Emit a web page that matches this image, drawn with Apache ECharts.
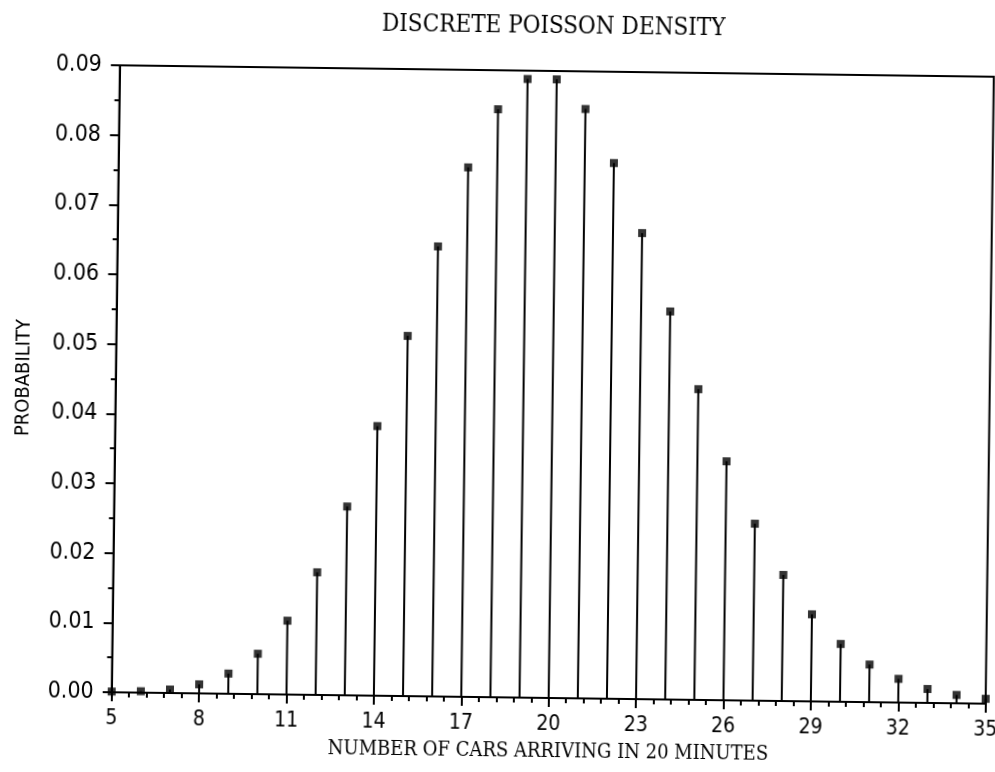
<!DOCTYPE html>
<html>
<head>
<meta charset="utf-8">
<script src="https://cdn.jsdelivr.net/npm/echarts@6/dist/echarts.min.js"></script>
<style>
html,body{margin:0;padding:0;background:#fff;overflow:hidden;width:995px;height:772px;}
#chart{position:absolute;left:0;top:0;width:1010px;height:780px;transform:rotate(0.75deg);transform-origin:552.75px 384.5px;}
</style>
</head>
<body>
<div id="chart"></div>
<script>
// Number of cars (x) and probability (y)
var cars = [5,6,7,8,9,10,11,12,13,14,15,16,17,18,19,20,21,22,23,24,25,26,27,28,29,30,31,32,33,34,35];
var probability = [0.0001,0.0002,0.0005,0.0013,0.0029,0.0058,0.0106,0.0176,0.0271,0.0387,0.0517,0.0646,0.0760,0.0844,0.0888,0.0888,0.0846,0.0769,0.0669,0.0557,0.0446,0.0343,0.0254,0.0181,0.0125,0.0083,0.0054,0.0034,0.0020,0.0012,0.0007];
var xTicks = {min:5, max:35, step:3};
var yTicks = {min:0, max:0.09, step:0.01};
var titleText = 'DISCRETE POISSON DENSITY';
var xName = 'NUMBER OF CARS ARRIVING IN 20 MINUTES';
var yName = 'PROBABILITY';

var pts = cars.map(function(c,i){return [c, probability[i]];});
var chart = echarts.init(document.getElementById('chart'), null, {renderer:'canvas'});
var tickFont = '"DejaVu Sans Condensed","Liberation Sans Narrow","DejaVu Sans",sans-serif';
var serifFont = '"DejaVu Serif Condensed","DejaVu Serif","Liberation Serif",serif';
chart.setOption({
  backgroundColor:'#fff',
  animation:false,
  title:{text:titleText,left:544,top:10,textAlign:'center',
    textStyle:{fontFamily:serifFont,fontSize:24,fontWeight:'normal',color:'#000'}},
  grid:{left:115.75,top:71,right:20.25,bottom:82,show:true,borderColor:'#000',borderWidth:2,
    containLabel:false,outerBoundsMode:'none'},
  xAxis:{type:'value',min:xTicks.min,max:xTicks.max,interval:xTicks.step,
    name:xName,nameLocation:'middle',nameGap:44,
    nameTextStyle:{fontFamily:serifFont,fontSize:20,color:'#000'},
    axisLine:{show:true,onZero:false,lineStyle:{color:'#000',width:2}},
    axisTick:{show:true,length:9,lineStyle:{color:'#000',width:2}},
    minorTick:{show:true,splitNumber:5,length:5,lineStyle:{color:'#000',width:2}},
    splitLine:{show:false},
    axisLabel:{margin:16,fontFamily:tickFont,fontSize:21,color:'#000',hideOverlap:false}},
  yAxis:{type:'value',min:yTicks.min,max:yTicks.max,interval:yTicks.step,
    name:yName,nameLocation:'middle',nameGap:82,nameRotate:90,
    nameTextStyle:{fontFamily:'"Liberation Sans Narrow","DejaVu Sans Condensed",sans-serif',fontSize:20,color:'#000'},
    axisLine:{show:true,lineStyle:{color:'#000',width:2}},
    axisTick:{show:true,length:9,lineStyle:{color:'#000',width:2}},
    minorTick:{show:true,splitNumber:2,length:5,lineStyle:{color:'#000',width:2}},
    splitLine:{show:false},
    axisLabel:{margin:18,fontFamily:tickFont,fontSize:23,color:'#000',
      formatter:function(v){return v.toFixed(2);}}},
  series:[
    {type:'custom',data:pts,silent:true,
      renderItem:function(params,api){
        var top = api.coord([api.value(0), api.value(1)]);
        var base = api.coord([api.value(0), 0]);
        return {type:'line',shape:{x1:top[0],y1:top[1],x2:base[0],y2:base[1]},
          style:{stroke:'#000',lineWidth:2}};
      }},
    {type:'scatter',data:pts,symbol:'rect',symbolSize:8,itemStyle:{color:'#000'},silent:true}
  ]
});
</script>
</body>
</html>
